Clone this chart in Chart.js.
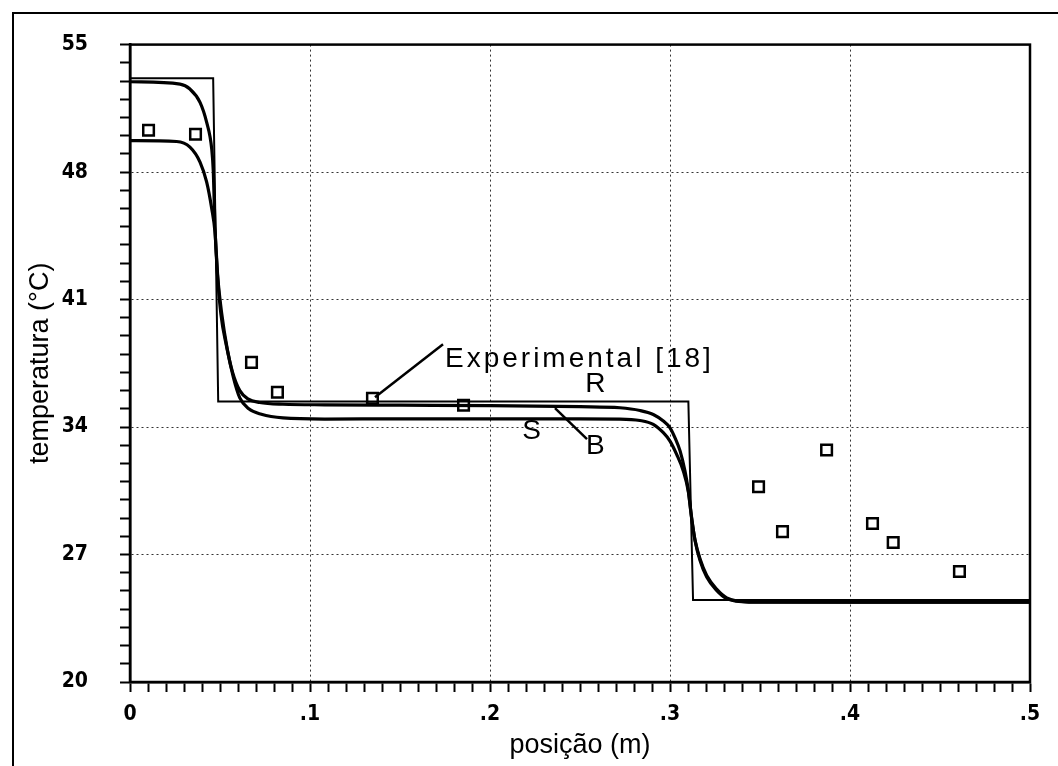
<!DOCTYPE html>
<html>
<head>
<meta charset="utf-8">
<title>temperatura x posição</title>
<script src="https://cdn.jsdelivr.net/npm/chart.js@4"></script>
<style>
  html, body { margin: 0; padding: 0; background: #fff; overflow: hidden; }
  #wrap { position: relative; width: 1058px; height: 766px; }
  #frame { position: absolute; left: 12px; top: 12px; width: 1100px; height: 800px; border: 2px solid #000; }
  canvas { position: absolute; left: 0; top: 0; }
</style>
</head>
<body>
<div id="wrap">
  <div id="frame"></div>
  <canvas id="chart" width="1058" height="766"></canvas>
</div>
<script>
/* perfil de temperatura ao longo do leito */

// modelo R (degraus)
const rX = [0, 0.0462, 0.049, 0.3102, 0.3128, 0.5];
const rY = [53.15, 53.15, 35.4, 35.4, 24.5, 24.5];

// modelo B
const bX = [0, 0.0278, 0.0333, 0.0389, 0.0426, 0.0454, 0.0463, 0.0472, 0.0485, 0.0505, 0.0535, 0.057,
  0.061, 0.0655, 0.072, 0.085, 0.108, 0.15, 0.2, 0.25, 0.2722, 0.2833, 0.2907, 0.2963, 0.30, 0.3028,
  0.3056, 0.3083, 0.3102, 0.312, 0.3139, 0.3167, 0.3204, 0.3259, 0.3315, 0.344, 0.4, 0.5];
const bY = [52.96, 52.83, 52.56, 51.83, 50.73, 49.27, 48.0, 45.0, 42.5, 40.2, 38.5, 37.0,
  36.0, 35.55, 35.35, 35.25, 35.22, 35.2, 35.18, 35.12, 35.06, 34.91, 34.69, 34.33, 33.96, 33.41,
  32.69, 31.59, 30.5, 29.04, 27.77, 26.67, 25.76, 25.03, 24.58, 24.39, 24.38, 24.38];

// modelo S
const sX = [0, 0.0259, 0.0333, 0.0389, 0.0426, 0.0454, 0.0472, 0.0488, 0.051, 0.054, 0.0575, 0.061,
  0.066, 0.073, 0.085, 0.108, 0.15, 0.2, 0.25, 0.2722, 0.2833, 0.2907, 0.2963, 0.30, 0.3037,
  0.3074, 0.3102, 0.312, 0.3139, 0.3167, 0.3204, 0.3259, 0.3315, 0.344, 0.4, 0.5];
const sY = [49.73, 49.68, 49.37, 48.55, 47.45, 46.0, 44.72, 42.2, 40.2, 38.3, 36.7, 35.6,
  35.0, 34.7, 34.5, 34.44, 34.45, 34.45, 34.45, 34.44, 34.36, 34.15, 33.69, 33.23, 32.5,
  31.59, 30.45, 29.0, 27.8, 26.75, 25.85, 25.1, 24.62, 24.4, 24.38, 24.38];

// pontos experimentais [18]
const expX = [0.0103, 0.0364, 0.0675, 0.0819, 0.1347, 0.1853, 0.3492, 0.3625, 0.387, 0.4125, 0.424, 0.4608];
const expY = [50.30, 50.08, 37.55, 35.91, 35.58, 35.2, 30.72, 28.26, 32.74, 28.7, 27.66, 26.07];

// eixos
const xMin = 0, xMax = 0.5, xMinor = 0.01;
const yMin = 20, yMax = 55, yMinor = 1, yMajorStep = 7;

// rótulos no gráfico: [texto, x, y, alinhamento]
const notes = [
  ['Experimental [18]', 0.175, 37.72, 'left'],
  ['R', 0.2594, 36.35, 'center'],
  ['S', 0.2239, 33.78, 'center'],
  ['B', 0.2594, 32.96, 'center']
];
// linhas de chamada: [x1, y1, x2, y2]
const leaders = [
  [0.1739, 38.54, 0.1361, 35.64],
  [0.2361, 35.04, 0.2539, 33.34]
];

const pts = (xs, ys) => xs.map((x, i) => ({ x, y: ys[i] }));
const isMajorX = v => Math.round(v * 100) % 10 === 0;
const isMajorY = v => (Math.round(v) - yMin) % yMajorStep === 0;

const labelFont = { family: "'Liberation Sans Narrow', 'DejaVu Sans Condensed', 'Liberation Sans', Arial", size: 21, weight: 'bold' };
const titleFont = { family: "'Liberation Sans', Arial", size: 27 };

// moldura da área do gráfico
const plotBox = {
  id: 'plotBox',
  afterDraw(chart) {
    const { ctx, chartArea: a } = chart;
    ctx.save();
    ctx.strokeStyle = '#000';
    ctx.lineWidth = 2.5;
    ctx.strokeRect(a.left, a.top, a.right - a.left, a.bottom - a.top);
    ctx.restore();
  }
};

// textos e linhas de chamada
const plotNotes = {
  id: 'plotNotes',
  afterDatasetsDraw(chart) {
    const { ctx, scales: { x, y } } = chart;
    ctx.save();
    ctx.strokeStyle = '#000';
    ctx.lineWidth = 2.5;
    leaders.forEach(([x1, y1, x2, y2]) => {
      ctx.beginPath();
      ctx.moveTo(x.getPixelForValue(x1), y.getPixelForValue(y1));
      ctx.lineTo(x.getPixelForValue(x2), y.getPixelForValue(y2));
      ctx.stroke();
    });
    ctx.fillStyle = '#000';
    ctx.font = "28px 'Liberation Sans', Arial";
    ctx.textBaseline = 'middle';
    if ('letterSpacing' in ctx) ctx.letterSpacing = '3px';
    notes.forEach(([t, nx, ny, align]) => {
      ctx.textAlign = align;
      ctx.fillText(t, x.getPixelForValue(nx), y.getPixelForValue(ny));
    });
    ctx.restore();
  }
};

const lineDs = (label, xs, ys, w) => ({
  label, data: pts(xs, ys), showLine: true, borderColor: '#000', borderWidth: w,
  pointRadius: 0, cubicInterpolationMode: 'monotone', fill: false
});

new Chart(document.getElementById('chart'), {
  type: 'scatter',
  data: {
    datasets: [
      { label: 'R', data: pts(rX, rY), showLine: true, borderColor: '#000', borderWidth: 2, pointRadius: 0, tension: 0 },
      lineDs('B', bX, bY, 3.2),
      lineDs('S', sX, sY, 3.2),
      { label: 'Experimental [18]', data: pts(expX, expY), showLine: false, pointStyle: 'rect',
        pointRadius: 7.5, borderWidth: 2.5, borderColor: '#000', backgroundColor: '#fff' }
    ]
  },
  options: {
    responsive: false,
    animation: false,
    layout: { padding: { left: 0, top: 42, right: 28, bottom: 0 } },
    plugins: { legend: { display: false }, tooltip: { enabled: false } },
    scales: {
      x: {
        type: 'linear', min: xMin, max: xMax,
        afterFit: s => { s.height = 84; },
        ticks: {
          stepSize: xMinor, autoSkip: false, maxRotation: 0, padding: 10,
          color: '#000', font: labelFont,
          callback: v => {
            const k = Math.round(v * 100);
            if (k % 10) return '';
            return k === 0 ? '0' : '.' + (k / 10);
          }
        },
        grid: {
          color: c => isMajorX(c.tick.value) ? '#333' : 'rgba(0,0,0,0)',
          lineWidth: 1, tickColor: '#000', tickWidth: 2, tickLength: 10
        },
        border: { color: '#000', width: 2.5, dash: [2, 3] },
        title: { display: true, text: 'posição (m)', color: '#000', font: titleFont, padding: { top: 0, bottom: 4 } }
      },
      y: {
        type: 'linear', min: yMin, max: yMax,
        afterFit: s => { s.width = 130; },
        ticks: {
          stepSize: yMinor, autoSkip: false, padding: 32,
          color: '#000', font: labelFont,
          callback: v => isMajorY(v) ? String(Math.round(v)) : ''
        },
        grid: {
          color: c => isMajorY(c.tick.value) ? '#333' : 'rgba(0,0,0,0)',
          lineWidth: 1, tickColor: '#000', tickWidth: 2, tickLength: 10
        },
        border: { color: '#000', width: 2.5, dash: [2, 3] },
        title: { display: true, text: 'temperatura (°C)', color: '#000', font: titleFont, padding: { top: 24, bottom: 0 } }
      }
    }
  },
  plugins: [plotBox, plotNotes]
});
</script>
</body>
</html>
